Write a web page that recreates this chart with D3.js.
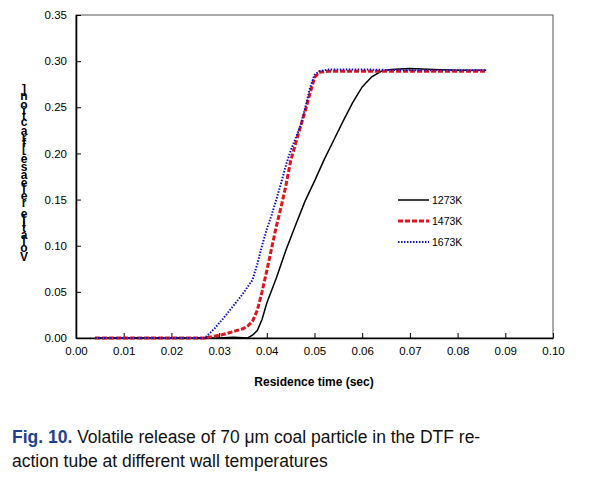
<!DOCTYPE html>
<html><head><meta charset="utf-8">
<script src="https://cdn.jsdelivr.net/npm/d3@7"></script>
<style>body{margin:0;background:#fff}svg{display:block;font-family:"Liberation Sans",Arial,sans-serif}</style>
</head><body>
<svg id="c" width="599" height="479"></svg>
<script>
const xTicks = [0,0.01,0.02,0.03,0.04,0.05,0.06,0.07,0.08,0.09,0.10];
const yTicks = [0,0.05,0.10,0.15,0.20,0.25,0.30,0.35];
const seriesNames = ["1273K","1473K","1673K"];
const t1273 = [0.004,0.030,0.033,0.036,0.037,0.038,0.039,0.040,0.042,0.044,0.046,0.048,0.050,0.052,0.054,0.056,0.058,0.060,0.062,0.064,0.066,0.070,0.075,0.080,0.086];
const v1273 = [0,0,0.0008,0,0.003,0.008,0.020,0.038,0.065,0.095,0.122,0.148,0.170,0.193,0.214,0.235,0.255,0.272,0.283,0.289,0.291,0.292,0.291,0.290,0.290];
const t1473 = [0.004,0.027,0.029,0.031,0.033,0.035,0.036,0.037,0.038,0.039,0.040,0.041,0.042,0.043,0.044,0.045,0.046,0.047,0.048,0.049,0.050,0.051,0.053,0.060,0.070,0.080,0.086];
const v1473 = [0,0,0.002,0.004,0.007,0.010,0.013,0.018,0.030,0.050,0.073,0.097,0.121,0.142,0.165,0.192,0.210,0.228,0.245,0.264,0.282,0.288,0.289,0.289,0.289,0.289,0.289];
const t1673 = [0.004,0.027,0.029,0.031,0.033,0.035,0.037,0.038,0.039,0.040,0.041,0.042,0.043,0.044,0.045,0.046,0.047,0.048,0.049,0.050,0.051,0.053,0.056,0.060,0.070,0.080,0.086];
const v1673 = [0,0,0.010,0.022,0.035,0.048,0.063,0.080,0.100,0.118,0.133,0.150,0.168,0.187,0.203,0.216,0.229,0.248,0.270,0.285,0.289,0.291,0.291,0.291,0.290,0.290,0.290];
const yLabel = "Volatile release [fraction]";
const xLabel = "Residence time (sec)";

const svg = d3.select("#c");
const L=76, R=553, T=15, B=338;
const x = d3.scaleLinear().domain([0,0.10]).range([L,R]);
const y = d3.scaleLinear().domain([0,0.35]).range([B,T]);

// frame
svg.append("rect").attr("x",L).attr("y",T).attr("width",R-L).attr("height",B-T)
  .attr("fill","none").attr("stroke","#555").attr("stroke-width",1);

const xa = svg.append("g").attr("transform",`translate(0,${B})`)
  .call(d3.axisBottom(x).tickValues(xTicks).tickSizeInner(-5).tickSizeOuter(0).tickPadding(9).tickFormat(d3.format(".2f")));
const ya = svg.append("g").attr("transform",`translate(${L},0)`)
  .call(d3.axisLeft(y).tickValues(yTicks).tickSizeInner(-5).tickSizeOuter(0).tickPadding(9).tickFormat(d3.format(".2f")));
[xa,ya].forEach(a=>{
  a.select(".domain").attr("stroke","#000").attr("stroke-width",1.6);
  a.selectAll(".tick line").attr("stroke","#000").attr("stroke-width",1);
  a.selectAll(".tick text").attr("font-size",11.5).attr("fill","#000").attr("font-family","Liberation Sans, Arial, sans-serif");
});
xa.selectAll(".tick text").attr("dy","0.71em");

const series = [
  {name:seriesNames[0], t:t1273, v:v1273, color:"#000", w:1.5, dash:null},
  {name:seriesNames[1], t:t1473, v:v1473, color:"#e0141c", w:3, dash:"5,2"},
  {name:seriesNames[2], t:t1673, v:v1673, color:"#1010c8", w:2, dash:"1.5,1.5"}
];
const line = d3.line().x(d=>x(d[0])).y(d=>y(d[1]));
series.forEach(s=>{
  svg.append("path").datum(s.t.map((t,i)=>[t,s.v[i]]))
    .attr("d",line).attr("fill","none").attr("stroke",s.color)
    .attr("stroke-width",s.w).attr("stroke-dasharray",s.dash);
});

// legend
series.forEach((s,i)=>{
  const ly = 200 + i*21;
  svg.append("line").attr("x1",398).attr("x2",429).attr("y1",ly).attr("y2",ly)
    .attr("stroke",s.color).attr("stroke-width",s.w).attr("stroke-dasharray",s.dash);
  svg.append("text").attr("x",432).attr("y",ly+4).attr("font-size",10.5).text(s.name);
});

// x label
svg.append("text").attr("x",314).attr("y",386).attr("text-anchor","middle")
  .attr("font-size",12).attr("font-weight","bold").text(xLabel);

// y label: upright glyphs stacked bottom to top with horizontal advances
const yl = svg.append("g").attr("font-size",12).attr("font-weight","bold");
const chars = yLabel.split("");
const meas = yl.append("text");
const adv = chars.map(c=>{ meas.text(c===" "?"\u00a0":c); return meas.node().getComputedTextLength(); });
meas.remove();
const total = d3.sum(adv);
const y0 = 262, y1 = 86;
const k = (y0-y1)/total;
let cur = y0;
chars.forEach((c,i)=>{
  const a = adv[i]*k;
  const cy = cur - a/2;
  cur -= a;
  if(c===" ") return;
  yl.append("text").attr("x",24).attr("y",cy).attr("dy","0.35em").attr("text-anchor","middle").text(c);
});

// caption
const cap = svg.append("g").attr("font-size",17.5);
const t1 = cap.append("text").attr("x",12).attr("y",443);
t1.append("tspan").attr("fill","#1f3f8f").attr("font-weight","bold").text("Fig. 10.");
t1.append("tspan").attr("fill","#111").text(" Volatile release of 70 \u03bcm coal particle in the DTF re-");
cap.append("text").attr("x",12).attr("y",467).attr("fill","#111").text("action tube at different wall temperatures");
</script>
</body></html>
